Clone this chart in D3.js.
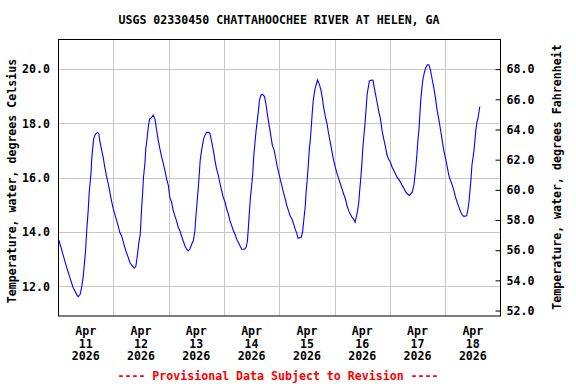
<!DOCTYPE html>
<html>
<head>
<meta charset="utf-8">
<script src="https://cdn.jsdelivr.net/npm/d3@7"></script>
<style>
  body { margin: 0; background: #fff; }
  text { font-family: "DejaVu Sans Mono", monospace; font-weight: bold; font-size: 11.6px; }
</style>
</head>
<body>
<div id="chart"></div>
<script>
// readings: hours after Apr 11 2026 00:00, water temp in deg C
var hours = [0.4, 1.9, 3.6, 5.1, 6.5, 8.3, 8.8, 9.6, 10.2, 10.9, 11.3, 11.9, 12.5, 13.1, 13.5, 13.9, 14.4, 14.6, 15.1, 15.5,
  16.2, 17.1, 17.7, 18.1, 18.9, 19.6, 20.3, 21.0, 21.8, 22.5, 23.2, 23.9, 24.7, 25.4, 26.1, 26.8, 27.6, 28.3, 29.0, 29.7,
  30.5, 31.2, 31.9, 33.1, 33.8, 34.5, 35.1, 35.7, 36.3, 36.7, 37.1, 37.7, 38.1, 38.6, 39.2, 39.7, 40.6, 41.3, 42.1, 42.8,
  43.5, 44.2, 45.0, 45.7, 46.4, 47.1, 47.9, 48.5, 49.3, 50.0, 50.7, 51.4, 52.2, 52.9, 53.6, 54.3, 55.1, 55.8, 56.5, 57.2,
  58.0, 58.7, 59.4, 59.8, 60.4, 60.9, 61.3, 61.7, 62.3, 62.7, 63.2, 63.8, 64.5, 65.5, 65.9, 66.7, 67.4, 68.1, 68.8, 69.6,
  70.3, 71.0, 71.7, 72.5, 73.2, 73.9, 74.6, 75.4, 76.1, 76.8, 77.5, 78.3, 79.0, 79.7, 80.9, 81.6, 82.2, 82.6, 83.0, 83.5,
  84.1, 84.5, 84.9, 85.5, 85.9, 86.4, 87.0, 87.4, 88.1, 88.8, 89.6, 90.3, 91.0, 91.6, 92.3, 93.0, 93.8, 94.5, 95.2, 95.7,
  96.4, 97.1, 97.8, 98.6, 99.3, 100.0, 100.7, 101.5, 102.2, 102.9, 103.6, 104.1, 105.5, 106.1, 106.7, 107.3, 107.7, 108.1, 108.6, 109.0,
  109.4, 109.9, 110.3, 110.7, 111.2, 111.6, 112.2, 112.6, 113.4, 114.1, 114.7, 115.2, 116.0, 116.7, 117.4, 118.1, 118.9, 119.6, 120.3, 121.0,
  121.8, 122.5, 123.2, 123.9, 124.7, 125.4, 126.1, 126.8, 127.6, 128.3, 128.9, 129.4, 130.0, 130.5, 130.9, 131.3, 131.8, 132.2, 132.6, 133.1,
  133.5, 133.9, 134.2, 134.7, 135.1, 136.0, 136.7, 137.0, 137.7, 138.4, 139.2, 139.9, 140.6, 141.3, 142.1, 142.8, 143.5, 144.2, 145.0, 145.7,
  146.4, 147.1, 147.9, 148.6, 149.3, 150.0, 150.8, 151.5, 152.5, 153.7, 154.4, 154.8, 155.2, 155.7, 156.1, 156.6, 157.0, 157.4, 157.9, 158.3,
  158.9, 159.5, 160.2, 160.9, 161.6, 162.4, 163.1, 163.8, 164.5, 165.3, 166.0, 166.7, 167.4, 168.2, 168.9, 169.6, 170.3, 171.1, 171.8, 172.5,
  173.2, 174.0, 174.7, 175.4, 176.1, 177.3, 177.9, 178.3, 178.7, 179.2, 179.6, 180.0, 180.5, 180.9, 181.3, 181.8, 182.2, 182.7, 183.0]

var tempC = [13.70, 13.25, 12.75, 12.34, 11.97, 11.67, 11.62, 11.70, 11.95, 12.32, 12.69, 13.25, 14.11, 14.79, 15.41, 15.78, 16.27, 16.67, 17.11, 17.44,
  17.60, 17.67, 17.63, 17.38, 17.04, 16.76, 16.39, 16.08, 15.78, 15.47, 15.16, 14.88, 14.64, 14.44, 14.23, 13.99, 13.86, 13.65, 13.43, 13.25,
  13.06, 12.88, 12.79, 12.67, 12.75, 13.18, 13.62, 13.92, 14.91, 15.41, 16.02, 16.52, 17.07, 17.41, 17.88, 18.15, 18.22, 18.31, 18.15, 17.75,
  17.38, 17.07, 16.76, 16.52, 16.27, 15.96, 15.71, 15.28, 15.10, 14.79, 14.60, 14.42, 14.17, 14.05, 13.86, 13.68, 13.49, 13.37, 13.31, 13.37,
  13.55, 13.68, 14.05, 14.54, 15.16, 15.65, 16.15, 16.64, 17.01, 17.20, 17.44, 17.57, 17.67, 17.67, 17.63, 17.32, 17.01, 16.64, 16.33, 16.08,
  15.78, 15.53, 15.28, 15.10, 14.85, 14.67, 14.42, 14.23, 14.05, 13.92, 13.74, 13.62, 13.49, 13.37, 13.37, 13.43, 13.68, 14.17, 14.67, 15.28,
  15.78, 16.15, 16.76, 17.32, 17.69, 18.06, 18.49, 18.86, 19.05, 19.07, 18.99, 18.68, 18.25, 17.94, 17.57, 17.20, 17.01, 16.70, 16.39, 16.21,
  15.96, 15.72, 15.47, 15.22, 14.97, 14.79, 14.60, 14.48, 14.30, 14.11, 13.96, 13.78, 13.80, 13.99, 14.48, 14.97, 15.53, 15.90, 16.46, 17.01,
  17.32, 17.88, 18.37, 18.80, 19.11, 19.30, 19.48, 19.60, 19.44, 19.23, 18.93, 18.62, 18.25, 18.00, 17.63, 17.32, 16.95, 16.64, 16.39, 16.18,
  15.96, 15.78, 15.59, 15.41, 15.22, 14.97, 14.79, 14.67, 14.54, 14.48, 14.36, 14.54, 14.79, 15.10, 15.53, 15.90, 16.46, 17.01, 17.44, 17.88,
  18.31, 18.80, 19.11, 19.36, 19.57, 19.60, 19.59, 19.42, 19.11, 18.80, 18.43, 18.18, 17.75, 17.44, 17.13, 16.83, 16.67, 16.58, 16.39, 16.27,
  16.15, 16.02, 15.94, 15.84, 15.72, 15.62, 15.49, 15.41, 15.35, 15.47, 15.72, 16.02, 16.33, 16.83, 17.32, 17.75, 18.31, 18.86, 19.30, 19.60,
  19.85, 20.04, 20.16, 20.16, 19.97, 19.60, 19.30, 18.93, 18.49, 18.12, 17.75, 17.38, 17.01, 16.70, 16.39, 16.09, 15.90, 15.72, 15.53, 15.28,
  15.10, 14.91, 14.75, 14.63, 14.58, 14.60, 14.85, 15.10, 15.47, 15.96, 16.46, 16.70, 17.01, 17.38, 17.75, 18.06, 18.18, 18.43, 18.62]

var celsiusTicks = [12, 14, 16, 18, 20]
var fahrenheitTicks = [52, 54, 56, 58, 60, 62, 64, 66, 68]
var dayLabels = ["Apr 11 2026", "Apr 12 2026", "Apr 13 2026", "Apr 14 2026", "Apr 15 2026", "Apr 16 2026", "Apr 17 2026", "Apr 18 2026"]

var title = "USGS 02330450 CHATTAHOOCHEE RIVER AT HELEN, GA"
var footer = "---- Provisional Data Subject to Revision ----"

var margin = {top: 39, right: 76, bottom: 68, left: 58},
    width = 576 - margin.left - margin.right,
    height = 384 - margin.top - margin.bottom;

var start = new Date(2026, 3, 11)
var end = new Date(2026, 3, 19)
var data = hours.map(function(h, i) {
    return {date: new Date(start.getTime() + h * 3600000), temp: tempC[i]}
})

var svg = d3.select("#chart")
    .append("svg")
    .attr("width", 576)
    .attr("height", 384)
    .style("display", "block")

svg.append("rect")
    .attr("width", 576).attr("height", 384).attr("fill", "white")

var g = svg.append("g")
    .attr("transform", "translate(" + margin.left + "," + margin.top + ")")

var x = d3.scaleTime()
    .domain([start, end])
    .range([0, width + 0.5])

var y = d3.scaleLinear()
    .domain([10.91, 21.11])
    .range([height, 0])

// fahrenheit scale lined up with the celsius one
var yF = d3.scaleLinear()
    .domain(y.domain().map(function(c) { return c * 1.8 + 32 }))
    .range(y.range())

// grid
g.selectAll(".hgrid")
    .data(celsiusTicks)
    .enter()
    .append("line")
    .attr("x1", 0)
    .attr("x2", width)
    .attr("y1", function(d) { return Math.round(y(d)) + 0.5 })
    .attr("y2", function(d) { return Math.round(y(d)) + 0.5 })
    .attr("stroke", "#c8c8c8")

var midnights = d3.timeDay.range(d3.timeDay.offset(start, 1), end)
g.selectAll(".vgrid")
    .data(midnights)
    .enter()
    .append("line")
    .attr("x1", function(d) { return Math.round(x(d)) + 0.5 })
    .attr("x2", function(d) { return Math.round(x(d)) + 0.5 })
    .attr("y1", 0)
    .attr("y2", height)
    .attr("stroke", "#c8c8c8")

// temperature line
g.append("path")
    .datum(data)
    .attr("fill", "none")
    .attr("stroke", "#0000ff")
    .attr("stroke-width", 1.1)
    .attr("d", d3.line()
        .x(function(d) { return x(d.date) })
        .y(function(d) { return y(d.temp) }))

// frame
g.append("rect")
    .attr("x", 0.5)
    .attr("y", 0.5)
    .attr("width", width)
    .attr("height", height - 0.5)
    .attr("fill", "none")
    .attr("stroke", "black")

// left axis
var left = g.append("g")
    .call(d3.axisLeft(y).tickValues(celsiusTicks).tickSize(0).tickPadding(8).tickFormat(d3.format(".1f")))
left.select(".domain").remove()
left.selectAll("text").style("font-size", null).style("font-family", null).attr("fill", "black")

// right axis, ticks point inward
var right = g.append("g")
    .attr("transform", "translate(" + (width + 0.5) + ",0)")
    .call(d3.axisRight(yF).tickValues(fahrenheitTicks).tickSizeInner(-5).tickSizeOuter(0).tickPadding(6).tickFormat(d3.format(".1f")))
right.select(".domain").remove()
right.selectAll("line").attr("stroke", "black")
right.selectAll("text").attr("fill", "black")
svg.selectAll(".tick text").attr("font-size", null).attr("font-family", null)
svg.selectAll("g").attr("font-size", null).attr("font-family", null)

// day labels at noon
var noon = dayLabels.map(function(s, i) { return d3.timeHour.offset(start, 24 * i + 12) })
var lab = g.selectAll(".daylab")
    .data(dayLabels)
    .enter()
    .append("text")
    .attr("text-anchor", "middle")
    .attr("transform", function(d, i) { return "translate(" + x(noon[i]) + "," + (height + 19) + ")" })
lab.selectAll("tspan")
    .data(function(d) { return d.split(" ") })
    .enter()
    .append("tspan")
    .attr("x", 0)
    .attr("y", function(d, i) { return i * 12.5 })
    .text(function(d) { return d })

// titles
svg.append("text")
    .attr("x", margin.left + width / 2)
    .attr("y", 24)
    .attr("text-anchor", "middle")
    .text(title)

svg.append("text")
    .attr("x", margin.left + width / 2 - 1)
    .attr("y", 379.5)
    .attr("text-anchor", "middle")
    .attr("fill", "#ff0000")
    .text(footer)

svg.append("text")
    .attr("transform", "translate(16," + 181 + ") rotate(-90)")
    .attr("text-anchor", "middle")
    .text("Temperature, water, degrees Celsius")

svg.append("text")
    .attr("transform", "translate(561," + 177 + ") rotate(-90)")
    .attr("text-anchor", "middle")
    .text("Temperature, water, degrees Fahrenheit")
</script>
</body>
</html>
